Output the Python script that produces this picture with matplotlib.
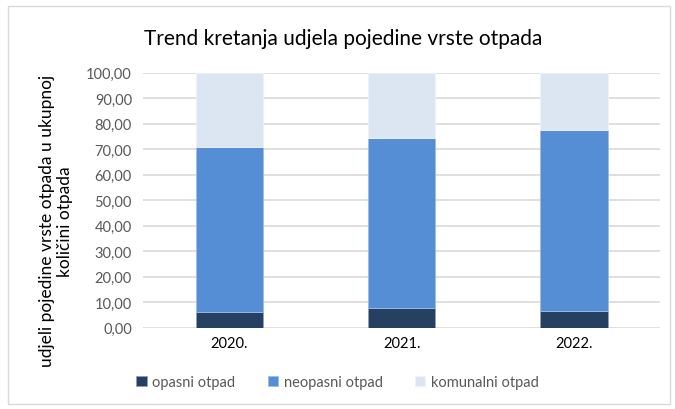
import matplotlib.pyplot as plt
import numpy as np
from matplotlib.patches import Rectangle

# Podaci (udjeli u %)
godine = ['2020.', '2021.', '2022.']
opasni = [6.1, 7.6, 6.4]
neopasni = [64.7, 66.7, 71.2]
komunalni = [29.2, 25.7, 22.4]

plt.rcParams['font.family'] = ['Lato', 'DejaVu Sans']

fig = plt.figure(figsize=(6.75, 4.1), dpi=100)
ax = fig.add_axes([0.212, 0.198, 0.766, 0.622])

x = np.arange(len(godine))
w = 0.39
dno2 = np.array(opasni)
dno3 = dno2 + np.array(neopasni)
ax.bar(x, opasni, w, color='#264061', edgecolor='#8ea0b8', linewidth=0.6, label='opasni otpad', zorder=3)
ax.bar(x, neopasni, w, bottom=dno2, color='#558ed5', edgecolor='#9dbde6', linewidth=0.6, label='neopasni otpad', zorder=3)
ax.bar(x, komunalni, w, bottom=dno3, color='#dce6f2', edgecolor='#eef3f9', linewidth=0.6, label='komunalni otpad', zorder=3)

ax.set_xlim(-0.5, 2.5)
ax.set_ylim(0, 100)
ax.set_yticks(np.arange(0, 101, 10))
ax.set_yticklabels([f'{v:.2f}'.replace('.', ',') for v in np.arange(0, 101, 10)])
ax.set_xticks(x)
ax.set_xticklabels(godine)
ax.tick_params(axis='both', length=0, labelsize=10.5, colors='#595959', pad=8)
ax.tick_params(axis='x', colors='#000000', pad=6)
ax.grid(axis='y', color='#d9d9d9', linewidth=1.2, zorder=0)
for s in ax.spines.values():
    s.set_visible(False)

fig.text(0.508, 0.905, 'Trend kretanja udjela pojedine vrste otpada', ha='center', va='center',
         fontsize=15, color='#000000')
fig.text(0.083, 0.46, 'udjeli pojedine vrste otpada u ukupnoj\nkoličini otpada', rotation=90,
         ha='center', va='center', fontsize=12.5, color='#000000', linespacing=1.15)

ax.legend(loc='center', bbox_to_anchor=(0.5, 0.065), bbox_transform=fig.transFigure, ncol=3,
          frameon=False, fontsize=10.5, handlelength=0.7, handleheight=0.7, columnspacing=2.2,
          handletextpad=0.4, labelcolor='#595959')

fig.patches.append(Rectangle((0.012, 0.012), 0.98, 0.97, transform=fig.transFigure,
                             fill=False, edgecolor='#d9d9d9', linewidth=1))

fig.savefig('out.png', dpi=100)
